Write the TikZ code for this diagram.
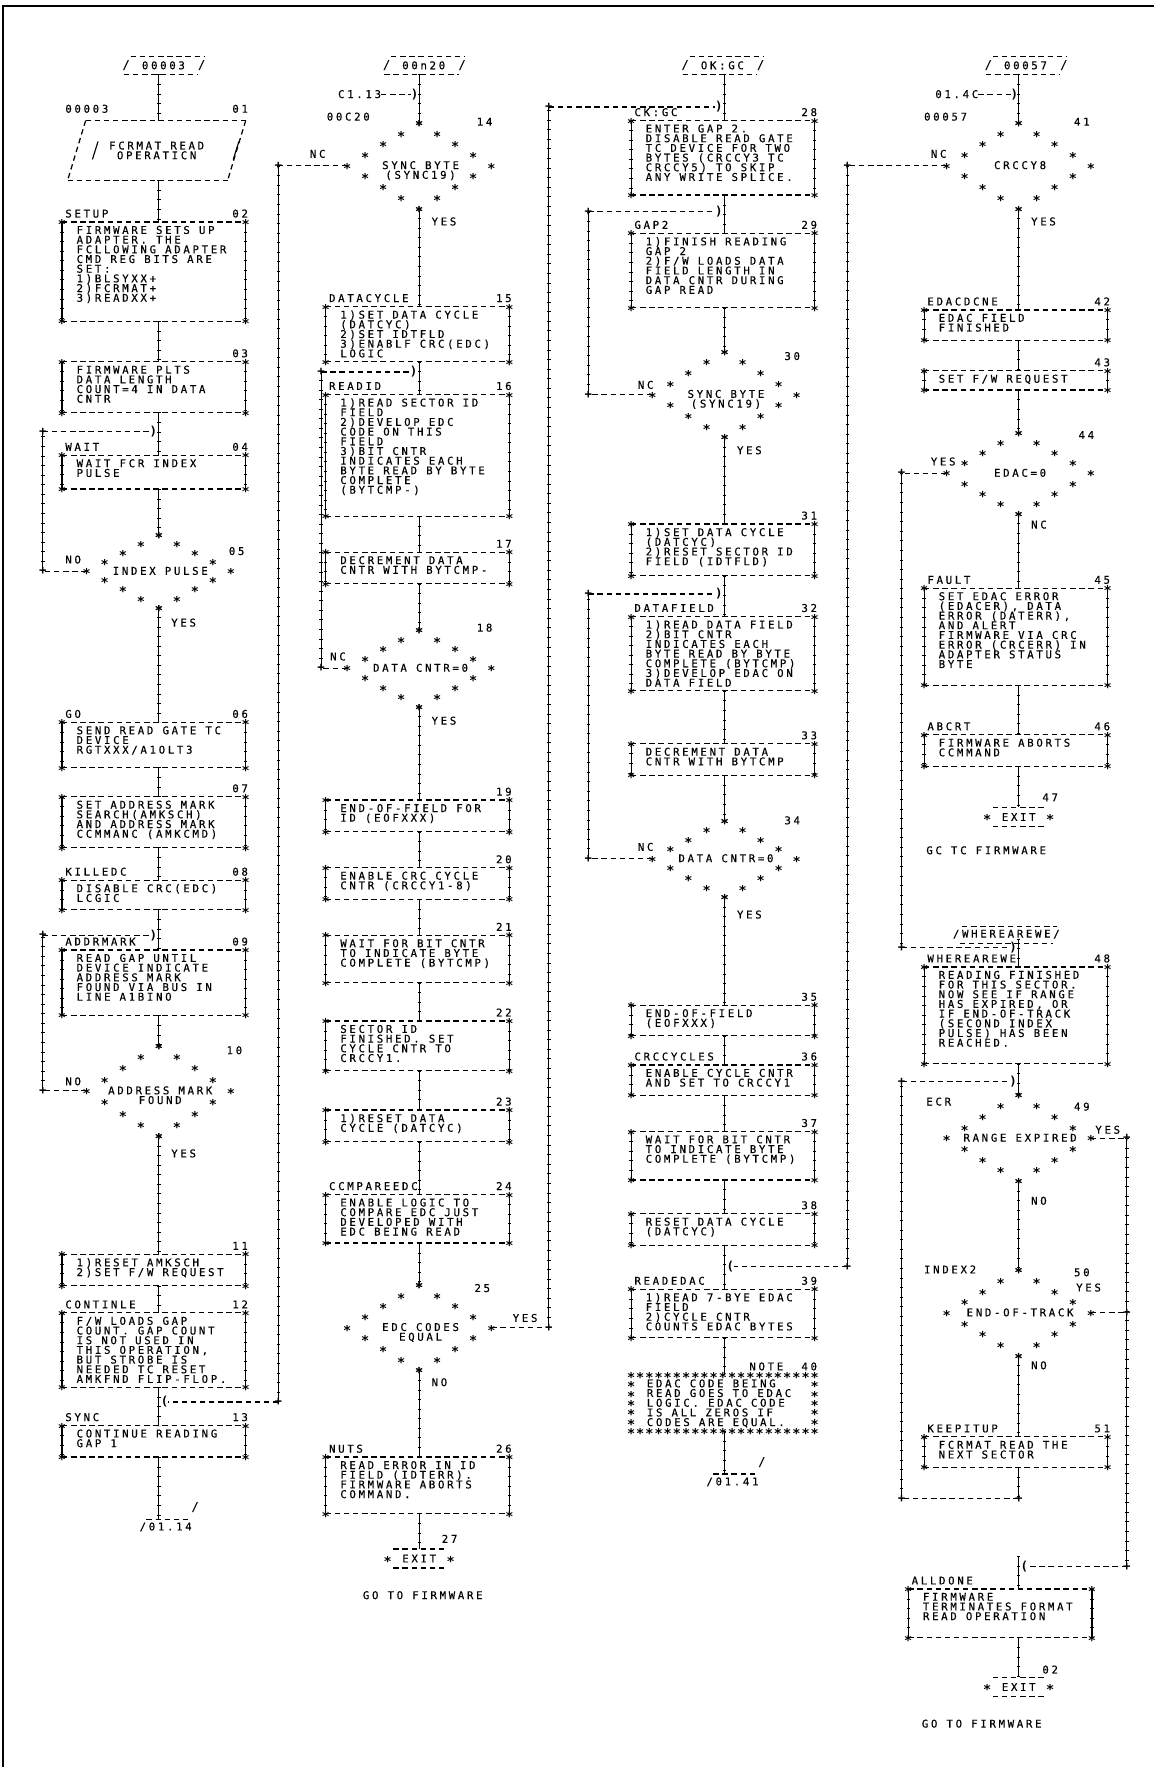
\documentclass[tikz,border=0pt]{standalone}
\usepackage{fontspec}
\newfontfamily\pf[LetterSpace=25,FakeBold=0.4]{DejaVu Sans Mono}
\newfontfamily\gf{DejaVu Sans Mono}
\usetikzlibrary{calc}
\tikzset{
  every node/.style={inner sep=0pt, outer sep=0pt},
  lbl/.style={font=\pf\fontsize{9.5}{8.6}\selectfont},
  txt/.style={lbl, align=left, anchor=north west},
  ast/.style={font=\gf\bfseries\fontsize{12}{12}\selectfont, yshift=-2.3pt},
  pls/.style={font=\gf\bfseries\fontsize{11}{11}\selectfont},
  hcon/.style={line width=1.1pt, dash pattern=on 4.8pt off 3.3pt},
  vcon/.style={line width=1pt, postaction={draw, line width=3pt, dash pattern=on 0.8pt off 7.7pt}},
  frm/.style={line width=1.8pt},
  boxn/.style={minimum width=163pt, anchor=north west},
}
\newcommand\fbx[7]{%
  \node[boxn, minimum height={(#4)-(#3)}] (#1) at (#2,#3) {};
  \node[txt] (#1-t) at ($(#1.north west)+(13,3.5)$) {#7};
  \node[lbl, anchor=base west] (#1-l) at ($(#1.north west)+(3,-4)$) {#5};
  \node[lbl, anchor=base east] (#1-n) at ($(#1.north east)+(2,-4)$) {#6};
  \draw[hcon] (#1.north west) -- (#1.north east);
  \draw[hcon] (#1.south west) -- (#1.south east);
  \draw[vcon] (#1.north west) -- (#1.south west);
  \draw[vcon] (#1.north east) -- (#1.south east);
  \foreach \cn/\tg in {north west/a,north east/b,south west/c,south east/d}
    \node[ast] (#1-\tg) at (#1.\cn) {*};
}
\newcommand\dmd[5]{%
  \node[minimum width=128pt, minimum height={8*(#4)}] (#1) at (#2,#3) {};
  \foreach \kk/\dd in {-4/0,-3/16,-2/32,-1/48,0/64,1/48,2/32,3/16,4/0}{
    \node[ast] (#1-r\kk) at ($(#1.center)+(\dd,\kk*#4)$) {*};
    \node[ast] (#1-l\kk) at ($(#1.center)+(-\dd,\kk*#4)$) {*};
  }
  \node[lbl, align=center, anchor=north] (#1-t) at ($(#1.center)+(1.2,-4)$) {#5};
}
\newcommand\exitt[3]{%
  \node[lbl, minimum width=46pt, minimum height=17pt] (#1) at (#2,#3) {EXIT};
  \draw[hcon] (#1.north west) -- (#1.north east);
  \draw[hcon] (#1.south west) -- (#1.south east);
  \node[ast] (#1-a) at ($(#1.west)+(-5,0)$) {*};
  \node[ast] (#1-b) at ($(#1.east)+(5,0)$) {*};
}
\newcommand\offtop[4]{%
  \node[lbl, minimum width=64pt, minimum height=16pt] (#1) at (#2,#3) {#4};
  \draw[hcon] ($(#1.north west)+(3,0)$) -- ($(#1.north east)+(5,0)$);
  \draw[hcon] ($(#1.south west)+(-3,0)$) -- ($(#1.south east)+(-1,0)$);
  \node[pls] (#1-a) at ($(#1.west)+(-1,0)$) {/};
  \node[pls] (#1-b) at ($(#1.east)+(2,0)$) {/};
}
\newcommand\offbot[4]{%
  \node[lbl] (#1) at (#2,#3) {#4};
  \draw[hcon] ($(#1.north west)+(6,-3)$) -- ($(#1.north east)+(-2,-3)$);
  \node[pls] (#1-a) at ($(#1.north east)+(3,-13)$) {/};
}
\begin{document}
\begin{tikzpicture}[x=1pt,y=-1pt]
\useasboundingbox (0,0) rectangle (1024,1568);
\draw[frm] (3,1568) -- (3,5) -- (1024,5);
\coordinate (c1) at (141,0);
\coordinate (c2) at (372,0);
\coordinate (c3) at (643,0);
\coordinate (c4) at (904,0);

% ================= COLUMN 1
\offtop{t1}{145}{58}{00003}
\node[lbl, anchor=base west] (l01) at (58,100) {00003};
\node[lbl, anchor=base east] (n01) at (220,100) {01};
\node[lbl, align=center, minimum width=142pt, minimum height=53pt] (b01) at (139,133.5) {FCRMAT READ\\OPERATICN};
\draw[hcon] ($(b01.north west)+(8,0)$) -- ($(b01.north east)+(8,0)$);
\draw[hcon] ($(b01.south west)+(-8,0)$) -- ($(b01.south east)+(-8,0)$);
\draw[hcon] ($(b01.north west)+(8,0)$) -- ($(b01.south west)+(-8,0)$);
\draw[hcon] ($(b01.north east)+(8,0)$) -- ($(b01.south east)+(-8,0)$);
\draw[line width=1pt] ($(b01.west)+(19,-8)$) -- ($(b01.west)+(14,8)$);
\draw[line width=1pt] ($(b01.east)+(2,-8)$) -- ($(b01.east)+(-3,8)$);

\fbx{b02}{55}{197}{285}{SETUP}{02}{FIRMWARE SETS UP\\ADAPTER. THE\\FCLLOWING ADAPTER\\CMD REG BITS ARE\\SET:\\1)BLSYXX+\\2)FCRMAT+\\3)READXX+}
\fbx{b03}{55}{321}{366}{}{03}{FIRMWARE PLTS\\DATA LENGTH\\COUNT=4 IN DATA\\CNTR}
\fbx{b04}{55}{404}{434}{WAIT}{04}{WAIT FCR INDEX\\PULSE}
\dmd{d05}{141}{507}{8}{INDEX PULSE}
\node[lbl] (d05-n) at (210,489) {05};
\node[lbl, anchor=base west] (d05-no) at (58,500) {NO};
\node[lbl, anchor=base west] (d05-yes) at (152,556) {YES};
\fbx{b06}{55}{641}{681}{GO}{06}{SEND READ GATE TC\\DEVICE\\RGTXXX/A1OLT3}
\fbx{b07}{55}{707}{752}{}{07}{SET ADDRESS MARK\\SEARCH(AMKSCH)\\AND ADDRESS MARK\\CCMMANC (AMKCMD)}
\fbx{b08}{55}{781}{807}{KILLEDC}{08}{DISABLE CRC(EDC)\\LCGIC}
\fbx{b09}{55}{843}{901}{ADDRMARK}{09}{READ GAP UNTIL\\DEVICE INDICATE\\ADDRESS MARK\\FOUND VIA BUS IN\\LINE A1BINO}
\dmd{d10}{141}{968}{10}{ADDRESS MARK\\FOUND}
\node[lbl] (d10-n) at (208,932) {10};
\node[lbl, anchor=base west] (d10-no) at (58,963) {NO};
\node[lbl, anchor=base west] (d10-yes) at (152,1027) {YES};
\fbx{b11}{55}{1113}{1141}{}{11}{1)RESET AMKSCH\\2)SET F/W REQUEST}
\fbx{b12}{55}{1165}{1231}{CONTINLE}{12}{F/W LOADS GAP\\COUNT. GAP COUNT\\IS NOT USED IN\\THIS OPERATION,\\BUT STROBE IS\\NEEDED TC RESET\\AMKFND FLIP-FLOP.}
\fbx{b13}{55}{1265}{1293}{SYNC}{13}{CONTINUE READING\\GAP 1}
\offbot{op1}{147}{1355}{/01.14}

\foreach \a/\b in {t1/b01,b01/b02,b02/b03,b03/b04,b04/d05,d05/b06,b06/b07,b07/b08,b08/b09,b09/d10,d10/b11,b11/b12,b12/b13}
  \draw[vcon] (\a.south -| c1) -- (\b.north -| c1);
\draw[vcon] (b13.south -| c1) -- ($(op1.north -| c1)+(0,-3)$);

% loops col 1
\coordinate (k04a) at (38,383); \coordinate (k04b) at (38,507);
\node[pls] (e04) at (136,383) {)};
\draw[hcon] (d05.west) -- (k04b);
\draw[vcon] (k04b) -- (k04a);
\draw[hcon] (k04a) -- (e04.west);
\node[pls] (k04a-p) at (k04a) {+}; \node[pls] (k04b-p) at (k04b) {+};
\coordinate (k09a) at (38,830); \coordinate (k09b) at (38,968);
\node[pls] (e09) at (136,830) {)};
\draw[hcon] (d10.west) -- (k09b);
\draw[vcon] (k09b) -- (k09a);
\draw[hcon] (k09a) -- (e09.west);
\node[pls] (k09a-p) at (k09a) {+}; \node[pls] (k09b-p) at (k09b) {+};

% ================= COLUMN 2
\offtop{t2}{376}{58}{00n20}
\node[lbl, anchor=base west] (r14) at (300,87) {C1.13};
\node[pls] (e14) at (368,84) {)};
\draw[hcon] (r14.east |- e14) -- (e14.west);
\node[lbl, anchor=base west] (d14-l) at (290,107) {00C20};
\dmd{d14}{372}{147}{9.5}{SYNC BYTE\\(SYNC19)}
\node[lbl] (d14-n) at (430,108) {14};
\node[lbl, anchor=base west] (d14-no) at (275,140) {NC};
\node[lbl, anchor=base west] (d14-yes) at (383,200) {YES};
\fbx{b15}{289}{272}{321}{DATACYCLE}{15}{1)SET DATA CYCLE\\(DATCYC)\\2)SET IDTFLD\\3)ENABLF CRC(EDC)\\LOGIC}
\fbx{b16}{289}{350}{458}{READID}{16}{1)READ SECTOR ID\\FIELD\\2)DEVELOP EDC\\CODE ON THIS\\FIELD\\3)BIT CNTR\\INDICATES EACH\\BYTE READ BY BYTE\\COMPLETE\\(BYTCMP-)}
\fbx{b17}{289}{490}{518}{}{17}{DECREMENT DATA\\CNTR WITH BYTCMP-}
\dmd{d18}{372}{593}{8.5}{DATA CNTR=0}
\node[lbl] (d18-n) at (430,557) {18};
\node[lbl, anchor=base west] (d18-no) at (293,586) {NC};
\node[lbl, anchor=base west] (d18-yes) at (383,643) {YES};
\fbx{b19}{289}{710}{738}{}{19}{END-OF-FIELD FOR\\ID (EOFXXX)}
\fbx{b20}{289}{770}{798}{}{20}{ENABLE CRC CYCLE\\CNTR (CRCCY1-8)}
\fbx{b21}{289}{830}{872}{}{21}{WAIT FOR BIT CNTR\\TO INDICATE BYTE\\COMPLETE (BYTCMP)}
\fbx{b22}{289}{906}{950}{}{22}{SECTOR ID\\FINISHED. SET\\CYCLE CNTR TO\\CRCCY1.}
\fbx{b23}{289}{985}{1013}{}{23}{1)RESET DATA\\CYCLE (DATCYC)}
\fbx{b24}{289}{1060}{1103}{CCMPAREEDC}{24}{ENABLE LOGIC TO\\COMPARE EDC JUST\\DEVELOPED WITH\\EDC BEING READ}
\dmd{d25}{372}{1178}{9.5}{EDC CODES\\EQUAL}
\node[lbl] (d25-n) at (428,1143) {25};
\node[lbl, anchor=base west] (d25-yes) at (455,1173) {YES};
\node[lbl, anchor=base west] (d25-no) at (383,1230) {NO};
\fbx{b26}{289}{1293}{1343}{NUTS}{26}{READ ERROR IN ID\\FIELD (IDTERR).\\FIRMWARE ABORTS\\COMMAND.}
\exitt{x27}{372}{1383}
\node[lbl, anchor=base west] (x27-n) at (392,1369) {27};
\node[lbl, anchor=base west] (x27-g) at (322,1419) {GO TO FIRMWARE};

\foreach \a/\b in {t2/d14,d14/b15,b15/b16,b16/b17,b17/d18,d18/b19,b19/b20,b20/b21,b21/b22,b22/b23,b23/b24,b24/d25,d25/b26,b26/x27}
  \draw[vcon] (\a.south -| c2) -- (\b.north -| c2);

% loops col 2
\coordinate (k14a) at (247,147); \coordinate (k14b) at (247,1244);
\node[pls] (e13) at (146,1244) {(};
\draw[hcon] (d14.west) -- (k14a);
\draw[vcon] (k14a) -- (k14b);
\draw[hcon] (k14b) -- (e13.east);
\node[pls] (k14a-p) at (k14a) {+}; \node[pls] (k14b-p) at (k14b) {+};
\coordinate (k16a) at (285,330); \coordinate (k16b) at (285,593);
\node[pls] (e16) at (367,330) {)};
\draw[hcon] (d18.west) -- (k16b);
\draw[vcon] (k16b) -- (k16a);
\draw[hcon] (k16a) -- (e16.west);
\node[pls] (k16a-p) at (k16a) {+}; \node[pls] (k16b-p) at (k16b) {+};
\coordinate (k25a) at (487,1178); \coordinate (k25b) at (487,95);
\node[pls] (e28) at (638,95) {)};
\draw[hcon] (d25.east) -- (k25a);
\draw[vcon] (k25a) -- (k25b);
\draw[hcon] (k25b) -- (e28.west);
\node[pls] (k25a-p) at (k25a) {+}; \node[pls] (k25b-p) at (k25b) {+};

% ================= COLUMN 3
\offtop{t3}{641}{58}{OK:GC}
\fbx{b28}{560}{107}{173}{CK:GC}{28}{ENTER GAP 2.\\DISABLE READ GATE\\TC DEVICE FOR TWO\\BYTES (CRCCY3 TC\\CRCCY5) TO SKIP\\ANY WRITE SPLICE.}
\fbx{b29}{560}{207}{273}{GAP2}{29}{1)FINISH READING\\GAP 2\\2)F/W LOADS DATA\\FIELD LENGTH IN\\DATA CNTR DURING\\GAP READ}
\dmd{d30}{643}{350}{9.5}{SYNC BYTE\\(SYNC19)}
\node[lbl] (d30-n) at (703,316) {30};
\node[lbl, anchor=base west] (d30-no) at (566,345) {NC};
\node[lbl, anchor=base west] (d30-yes) at (654,403) {YES};
\fbx{b31}{560}{465}{511}{}{31}{1)SET DATA CYCLE\\(DATCYC)\\2)RESET SECTOR ID\\FIELD (IDTFLD)}
\fbx{b32}{560}{547}{613}{DATAFIELD}{32}{1)READ DATA FIELD\\2)BIT CNTR\\INDICATES EACH\\BYTE READ BY BYTE\\COMPLETE (BYTCMP)\\3)DEVELOP EDAC ON\\DATA FIELD}
\fbx{b33}{560}{660}{688}{}{33}{DECREMENT DATA\\CNTR WITH BYTCMP}
\dmd{d34}{643}{762}{8.5}{DATA CNTR=0}
\node[lbl] (d34-n) at (703,728) {34};
\node[lbl, anchor=base west] (d34-no) at (566,755) {NC};
\node[lbl, anchor=base west] (d34-yes) at (654,815) {YES};
\fbx{b35}{560}{892}{919}{}{35}{END-OF-FIELD\\(EOFXXX)}
\fbx{b36}{560}{945}{972}{CRCCYCLES}{36}{ENABLE CYCLE CNTR\\AND SET TO CRCCY1}
\fbx{b37}{560}{1004}{1047}{}{37}{WAIT FOR BIT CNTR\\TO INDICATE BYTE\\COMPLETE (BYTCMP)}
\fbx{b38}{560}{1077}{1105}{}{38}{RESET DATA CYCLE\\(DATCYC)}
\fbx{b39}{560}{1144}{1187}{READEDAC}{39}{1)READ 7-BYE EDAC\\FIELD\\2)CYCLE CNTR\\COUNTS EDAC BYTES}
% note 40
\node[boxn, minimum height=50pt] (n40) at (560,1220) {};
\node[txt] (n40-t) at ($(n40.north west)+(14,4)$) {EDAC CODE BEING\\READ GOES TO EDAC\\LOGIC. EDAC CODE\\IS ALL ZEROS IF\\CODES ARE EQUAL.};
\node[lbl, anchor=base east] (n40-n) at ($(n40.north east)+(2,-4)$) {NOTE\ \ 40};
\foreach \i in {0,...,20}{
  \node[ast] (n40-u\i) at ($(n40.north west)+(\i*8.15,0)$) {*};
  \node[ast] (n40-d\i) at ($(n40.south west)+(\i*8.15,0)$) {*};
}
\foreach \j in {1,...,5}{
  \node[ast] (n40-sl\j) at ($(n40.north west)+(0,\j*8.3)$) {*};
  \node[ast] (n40-sr\j) at ($(n40.north east)+(0,\j*8.3)$) {*};
}
\offbot{op3}{650}{1315}{/01.41}

\foreach \a/\b in {t3/b28,b28/b29,b29/d30,d30/b31,b31/b32,b32/b33,b33/d34,d34/b35,b35/b36,b36/b37,b37/b38,b38/b39,b39/n40}
  \draw[vcon] (\a.south -| c3) -- (\b.north -| c3);
\draw[vcon] (n40.south -| c3) -- ($(op3.north -| c3)+(0,-3)$);

% loops col 3
\coordinate (k29a) at (522,188); \coordinate (k29b) at (522,350);
\node[pls] (e29) at (638,188) {)};
\draw[hcon] (d30.west) -- (k29b);
\draw[vcon] (k29b) -- (k29a);
\draw[hcon] (k29a) -- (e29.west);
\node[pls] (k29a-p) at (k29a) {+}; \node[pls] (k29b-p) at (k29b) {+};
\coordinate (k32a) at (522,527); \coordinate (k32b) at (522,762);
\node[pls] (e32) at (638,527) {)};
\draw[hcon] (d34.west) -- (k32b);
\draw[vcon] (k32b) -- (k32a);
\draw[hcon] (k32a) -- (e32.west);
\node[pls] (k32a-p) at (k32a) {+}; \node[pls] (k32b-p) at (k32b) {+};

% ================= COLUMN 4
\offtop{t4}{910}{58}{00057}
\node[lbl, anchor=base west] (r41) at (830,87) {01.4C};
\node[pls] (e41) at (900,84) {)};
\draw[hcon] (r41.east |- e41) -- (e41.west);
\node[lbl, anchor=base west] (d41-l) at (820,107) {00057};
\dmd{d41}{904}{147}{9.5}{CRCCY8}
\node[lbl] (d41-n) at (960,108) {41};
\node[lbl, anchor=base west] (d41-no) at (826,140) {NC};
\node[lbl, anchor=base west] (d41-yes) at (915,200) {YES};
\fbx{b42}{820}{275}{302}{EDACDCNE}{42}{EDAC FIELD\\FINISHED}
\fbx{b43}{820}{329}{346}{}{43}{SET F/W REQUEST}
\dmd{d44}{904}{420}{9}{EDAC=0}
\node[lbl] (d44-n) at (964,386) {44};
\node[lbl, anchor=base west] (d44-yes) at (826,413) {YES};
\node[lbl, anchor=base west] (d44-no) at (915,469) {NC};
\fbx{b45}{820}{522}{608}{FAULT}{45}{SET EDAC ERROR\\(EDACER), DATA\\ERROR (DATERR),\\AND ALERT\\FIRMWARE VIA CRC\\ERROR (CRCERR) IN\\ADAPTER STATUS\\BYTE}
\fbx{b46}{820}{652}{680}{ABCRT}{46}{FIRMWARE ABORTS\\CCMMAND}
\exitt{x47}{904}{725}
\node[lbl, anchor=base west] (x47-n) at (925,711) {47};
\node[lbl, anchor=base west] (x47-g) at (822,758) {GC TC FIRMWARE};

\node[lbl] (tW) at (893,829) {/WHEREAREWE/};
\draw[hcon] ($(tW.north west)+(8,-3)$) -- ($(tW.north east)+(-2,-3)$);
\draw[hcon] ($(tW.south west)+(6,4)$) -- ($(tW.south east)+(-6,4)$);
\fbx{b48}{820}{858}{944}{WHEREAREWE}{48}{READING FINISHED\\FOR THIS SECTOR.\\NOW SEE IF RANGE\\HAS EXPIRED, OR\\IF END-OF-TRACK\\(SECOND INDEX\\PULSE) HAS BEEN\\REACHED.}
\node[lbl, anchor=base west] (d49-l) at (822,981) {ECR};
\dmd{d49}{904}{1010}{9.5}{RANGE EXPIRED}
\node[lbl] (d49-n) at (960,982) {49};
\node[lbl, anchor=base west] (d49-yes) at (972,1006) {YES};
\node[lbl, anchor=base west] (d49-no) at (915,1069) {NO};
\node[lbl, anchor=base west] (d50-l) at (820,1130) {INDEX2};
\dmd{d50}{904}{1165}{9.5}{END-OF-TRACK}
\node[lbl] (d50-n) at (960,1129) {50};
\node[lbl, anchor=base west] (d50-yes) at (955,1146) {YES};
\node[lbl, anchor=base west] (d50-no) at (915,1215) {NO};
\fbx{b51}{820}{1275}{1302}{KEEPITUP}{51}{FCRMAT READ THE\\NEXT SECTOR}
\coordinate (sAD) at (904,1381);
\fbx{bAD}{806}{1410}{1453}{ALLDONE}{}{FIRMWARE\\TERMINATES FORMAT\\READ OPERATION}
\exitt{x02}{904}{1497}
\node[lbl, anchor=base west] (x02-n) at (925,1485) {02};
\node[lbl, anchor=base west] (x02-g) at (818,1533) {GO TO FIRMWARE};

\foreach \a/\b in {t4/d41,d41/b42,b42/b43,b43/d44,d44/b45,b45/b46,b46/x47,tW/b48,b48/d49,d49/d50,d50/b51,bAD/x02}
  \draw[vcon] (\a.south -| c4) -- (\b.north -| c4);
\draw[vcon] (sAD) -- (bAD.north -| c4);

% loops col 4
\coordinate (k41a) at (752,147); \coordinate (k41b) at (752,1124);
\node[pls] (e39) at (648,1124) {(};
\draw[hcon] (d41.west) -- (k41a);
\draw[vcon] (k41a) -- (k41b);
\draw[hcon] (k41b) -- (e39.east);
\node[pls] (k41a-p) at (k41a) {+}; \node[pls] (k41b-p) at (k41b) {+};
\coordinate (k44a) at (800,420); \coordinate (k44b) at (800,841);
\node[pls] (e48) at (899,841) {)};
\draw[hcon] (d44.west) -- (k44a);
\draw[vcon] (k44a) -- (k44b);
\draw[hcon] (k44b) -- (e48.west);
\node[pls] (k44a-p) at (k44a) {+}; \node[pls] (k44b-p) at (k44b) {+};
\coordinate (k49a) at (800,960); \coordinate (k49b) at (800,1330); \coordinate (k49c) at (904,1330);
\node[pls] (e49) at (899,960) {)};
\draw[vcon] (b51.south -| c4) -- (k49c);
\draw[hcon] (k49c) -- (k49b);
\draw[vcon] (k49b) -- (k49a);
\draw[hcon] (k49a) -- (e49.west);
\node[pls] (k49a-p) at (k49a) {+}; \node[pls] (k49b-p) at (k49b) {+}; \node[pls] (k49c-p) at (k49c) {+};
\coordinate (k50a) at (1000,1010); \coordinate (k50b) at (1000,1390); \coordinate (k50c) at (1000,1165);
\node[pls] (eAD) at (909,1390) {(};
\draw[hcon] (d49.east) -- (k50a);
\draw[vcon] (k50a) -- (k50b);
\draw[hcon] (k50b) -- (eAD.east);
\draw[hcon] (d50.east) -- (k50c);
\node[pls] (k50a-p) at (k50a) {+}; \node[pls] (k50b-p) at (k50b) {+}; \node[pls] (k50c-p) at (k50c) {+};
\end{tikzpicture}
\end{document}
